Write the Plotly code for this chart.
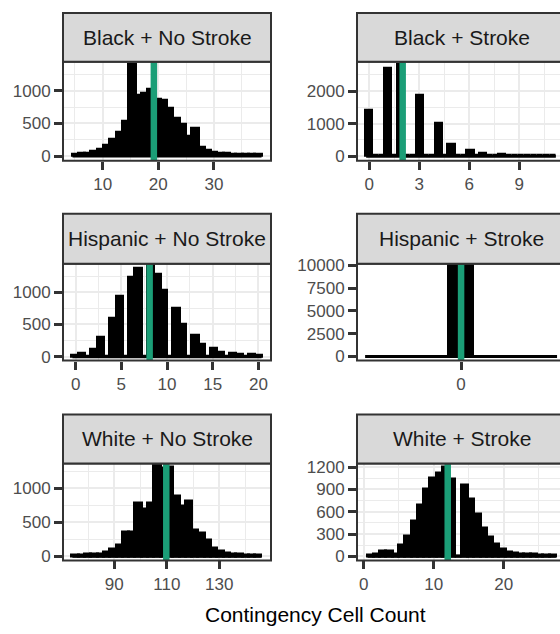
import plotly.graph_objects as go

W, H = 560, 634

# ---------------- data ----------------
panel_titles = ["Black + No Stroke", "Black + Stroke",
                "Hispanic + No Stroke", "Hispanic + Stroke",
                "White + No Stroke", "White + Stroke"]

# histogram bins: first bin centre and bin width per panel
bin_start = [5.14, 0.0, 0.0, 0.0, 75.25, 1.0]
bin_width = [1.133, 11 / 29, 20 / 29, 0.1, 2.40, 26 / 29]

black_ns_counts = [20, 30, 40, 60, 100, 160, 250, 350, 525, 1390,
                   925, 950, 1015, 860, 840, 725, 575, 475, 300, 415,
                   125, 80, 50, 35, 30, 25, 20, 20, 15, 15]
black_s_counts = [1400, 0, 0, 2680, 0, 2800, 0, 0, 1860, 0,
                  0, 990, 0, 340, 0, 0, 160, 0, 70, 0,
                  0, 40, 0, 0, 25, 0, 15, 0, 0, 10]
hisp_ns_counts = [22, 50, 0, 105, 290, 0, 590, 925, 0, 1220,
                  1365, 0, 1410, 1280, 1020, 0, 740, 500, 0, 320,
                  195, 0, 118, 58, 0, 45, 35, 0, 25, 22]
hisp_s_counts = [10000]
white_ns_counts = [15, 20, 25, 30, 35, 60, 100, 160, 350, 345,
                   775, 690, 785, 1335, 1300, 1310, 875, 735, 815, 385,
                   330, 235, 115, 70, 40, 30, 25, 20, 20, 15]
white_s_counts = [15, 20, 60, 60, 20, 140, 270, 470, 690, 900,
                  1050, 1120, 1200, 1040, 0, 955, 760, 560, 370, 260,
                  165, 95, 50, 35, 30, 25, 20, 15, 12, 10]

# extent of the (zero-count) bins drawn as a baseline, only for the single-value panel
hisp_s_extent = [-0.39, 0.39]

# observed value (vertical line) per panel
observed = [19.2, 2.0, 8.1, 0.0, 109.8, 12.0]

# tick labels
x_ticks = [[10, 20, 30], [0, 3, 6, 9], [0, 5, 10, 15, 20], [0], [90, 110, 130], [0, 10, 20]]
x_minor = [[5, 15, 25, 35], [1.5, 4.5, 7.5, 10.5], [2.5, 7.5, 12.5, 17.5], [],
           [80, 100, 120, 140], [5, 15, 25]]
y_ticks = [[0, 500, 1000], [0, 1000, 2000], [0, 500, 1000],
           [0, 2500, 5000, 7500, 10000], [0, 500, 1000], [0, 300, 600, 900, 1200]]
y_minor = [[250, 750, 1250], [500, 1500, 2500], [250, 750, 1250], [],
           [250, 750, 1250], [150, 450, 750, 1050]]

counts_all = [black_ns_counts, black_s_counts, hisp_ns_counts,
              hisp_s_counts, white_ns_counts, white_s_counts]

# ---------------- layout / styles ----------------
x_ranges = [[2.86, 40.27], [-0.74, 11.44], [-1.38, 21.38],
            [-0.423, 0.402], [70.45, 149.7], [-0.96, 28.04]]
y_ranges = [[-72, 1440], [-140, 2900], [-60, 1444],
            [-450, 10200], [-60, 1367], [-55, 1249]]
show_grid = [True, True, True, False, True, True]

col_px = [(63, 271), (357, 560)]
row_px = [(56, 157), (262, 361), (466, 565)]
strip_px = [(6, 56), (211, 262), (416, 466)]
col_center_px = [167, 461.5]

FONT = "Liberation Sans, Arial, sans-serif"
TEAL = "#1b9e77"
DARK = "#333333"
GRID = "#ebebeb"


def px_x(v):
    return v / W


def px_y(v):
    return 1 - v / H


fig = go.Figure()
layout = dict(width=W, height=H, margin=dict(l=0, r=0, t=0, b=0),
              paper_bgcolor="white", plot_bgcolor="white", showlegend=False,
              font=dict(family=FONT))
shapes = []
annotations = []

for i in range(6):
    n = i + 1
    r, c = divmod(i, 2)
    xa = "x" if n == 1 else f"x{n}"
    ya = "y" if n == 1 else f"y{n}"
    counts = counts_all[i]
    bw = bin_width[i]
    centers = [bin_start[i] + k * bw for k in range(len(counts))]

    if i == 3:
        lo, hi = hisp_s_extent
    else:
        lo, hi = centers[0] - bw / 2, centers[-1] + bw / 2
    # baseline formed by the zero-height bins
    fig.add_trace(go.Scatter(x=[lo, hi], y=[0, 0], mode="lines",
                             line=dict(color="black", width=3),
                             xaxis=xa, yaxis=ya, hoverinfo="skip"))
    fig.add_trace(go.Bar(x=centers, y=counts, width=bw,
                         marker=dict(color="black", line=dict(color="black", width=3)),
                         xaxis=xa, yaxis=ya))

    x0p, x1p = col_px[c]
    y0p, y1p = row_px[r]
    axis_common = dict(ticks="outside", ticklen=8, tickwidth=3, tickcolor=DARK,
                       tickfont=dict(size=17, color="#4d4d4d", family=FONT),
                       showline=False, zeroline=False, tickmode="array",
                       showgrid=show_grid[i], gridcolor=GRID, gridwidth=2.2)
    xkey = "xaxis" if n == 1 else f"xaxis{n}"
    ykey = "yaxis" if n == 1 else f"yaxis{n}"
    layout[xkey] = dict(axis_common, domain=[px_x(x0p), px_x(x1p)], anchor=ya,
                        range=x_ranges[i], tickvals=x_ticks[i],
                        ticktext=[str(t) for t in x_ticks[i]],
                        minor=dict(tickvals=x_minor[i], showgrid=show_grid[i],
                                   gridcolor=GRID, gridwidth=1.1, ticks=""))
    layout[ykey] = dict(axis_common, domain=[px_y(y1p), px_y(y0p)], anchor=xa,
                        range=y_ranges[i], tickvals=y_ticks[i],
                        ticktext=[str(t) for t in y_ticks[i]],
                        minor=dict(tickvals=y_minor[i], showgrid=show_grid[i],
                                   gridcolor=GRID, gridwidth=1.1, ticks=""))

    # observed value line
    shapes.append(dict(type="line", xref=xa, yref=f"{ya} domain",
                       x0=observed[i], x1=observed[i], y0=0, y1=1,
                       line=dict(color=TEAL, width=6.5), layer="above"))

for i in range(6):
    r, c = divmod(i, 2)
    x0p, x1p = col_px[c]
    y0p, y1p = row_px[r]
    s0, s1 = strip_px[r]
    xr = px_x(x1p) if c == 0 else 1.03
    # panel border
    shapes.append(dict(type="rect", xref="paper", yref="paper",
                       x0=px_x(x0p), x1=xr, y0=px_y(y1p), y1=px_y(y0p),
                       line=dict(color=DARK, width=2), fillcolor="rgba(0,0,0,0)",
                       layer="above"))
    # strip
    shapes.append(dict(type="rect", xref="paper", yref="paper",
                       x0=px_x(x0p), x1=xr, y0=px_y(s1), y1=px_y(s0),
                       line=dict(color=DARK, width=2), fillcolor="#d9d9d9",
                       layer="above"))
    annotations.append(dict(text=panel_titles[i], xref="paper", yref="paper",
                            x=px_x(col_center_px[c]), y=px_y((s0 + s1) / 2),
                            showarrow=False, xanchor="center", yanchor="middle",
                            font=dict(size=21, color="#1a1a1a", family=FONT)))

annotations.append(dict(text="Contingency Cell Count", xref="paper", yref="paper",
                        x=px_x(315), y=px_y(620), showarrow=False,
                        xanchor="center", yanchor="middle",
                        font=dict(size=21, color="black", family=FONT)))

layout["shapes"] = shapes
layout["annotations"] = annotations
layout["bargap"] = 0
fig.update_layout(**layout)
fig.write_html("out.html")
